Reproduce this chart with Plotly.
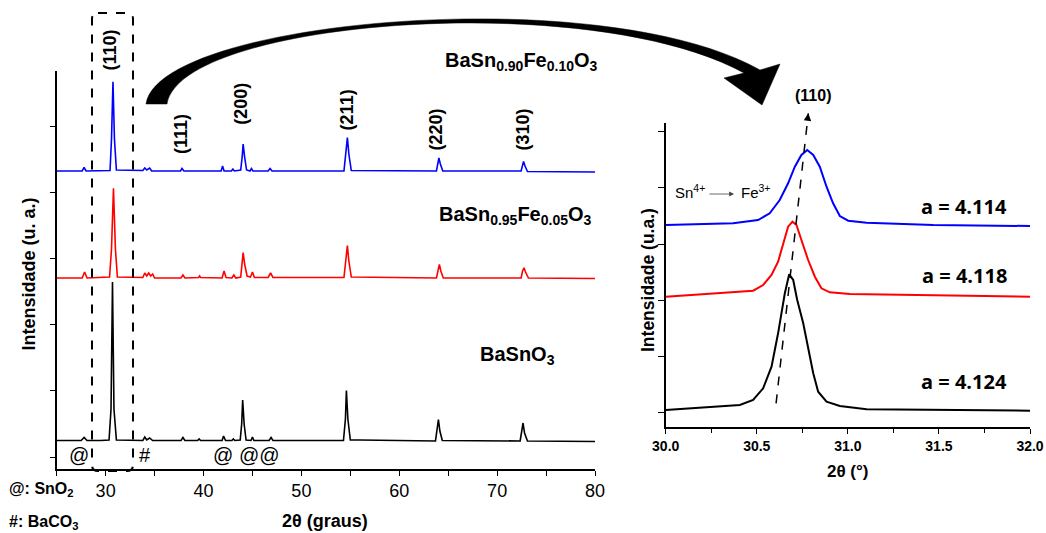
import plotly.graph_objects as go

W, H = 1046, 533

# ---------------- data: XRD patterns (full range) ----------------
bso_x = [25.0, 27.5, 27.8, 28.1, 29.5, 30.35, 30.55, 30.7, 30.85, 31.1, 33.8, 34.0, 34.2, 34.5, 34.8,
         37.7, 37.9, 38.1, 39.4, 39.55, 39.7, 41.9, 42.05, 42.25, 42.9, 43.05, 43.2, 43.75, 43.9, 44.0,
         44.15, 44.35, 44.85, 45.0, 45.15, 46.7, 46.9, 47.1, 54.3, 54.5, 54.6, 54.75, 55.0, 56.0,
         63.7, 63.9, 64.0, 64.15, 64.4, 72.35, 72.55, 72.65, 72.8, 73.1, 80.0]
bso_y = [28.5, 28.5, 31.5, 28.5, 28.5, 29, 60, 187, 60, 29, 28.5, 32, 29, 31, 28.5,
         28.5, 31.5, 28.5, 28.5, 30, 28.5, 28.5, 33, 28.5, 28.5, 30, 28.5, 29, 45, 69,
         45, 29, 28.5, 32, 28.5, 28.5, 31.5, 28.5, 28.5, 50, 78.5, 50, 29, 29,
         28, 40, 49.5, 38, 28.5, 28, 40, 46, 36, 28, 27.5]

fe05_x = [25.0, 27.6, 27.85, 28.1, 30.4, 30.6, 30.8, 31.0, 31.2, 33.8, 34.0, 34.2, 34.4, 34.6, 34.8, 35.0,
          37.7, 37.9, 38.1, 39.5, 39.6, 39.7, 41.9, 42.1, 42.3, 42.9, 43.1, 43.3, 43.8, 43.95, 44.05,
          44.2, 44.45, 44.8, 45.0, 45.2, 46.6, 46.85, 47.1, 54.35, 54.55, 54.7, 54.85, 55.1,
          63.8, 63.95, 64.1, 64.25, 64.5, 72.45, 72.6, 72.75, 72.9, 73.2, 80.0]
fe05_y = [191, 191, 197, 191, 192, 220, 280.7, 220, 192, 191.5, 196, 193, 196, 193, 195, 191,
          191, 194, 191, 191.5, 193, 191.5, 191, 198, 191.5, 191, 194, 191, 192, 205, 216.5,
          205, 193, 192, 197, 191.5, 191.5, 196, 191.5, 191.5, 208, 223.4, 208, 192,
          191, 200, 204.6, 198, 191, 191, 198, 201.2, 197, 191, 190.5]

fe10_x = [25.0, 27.6, 27.8, 28.0, 30.45, 30.6, 30.75, 30.9, 31.1, 33.8, 34.0, 34.2, 34.5, 34.7,
          37.65, 37.8, 38.0, 41.8, 41.95, 42.1, 42.85, 43.0, 43.15, 43.8, 43.95, 44.05, 44.2, 44.4,
          44.75, 44.9, 45.05, 46.6, 46.8, 47.0, 54.35, 54.55, 54.7, 54.85, 55.1,
          63.8, 63.95, 64.05, 64.2, 64.45, 72.45, 72.6, 72.7, 72.85, 73.1, 80.0]
fe10_y = [298, 298, 301.5, 298, 298.5, 330, 387.3, 330, 299, 298.5, 301, 299, 301, 298,
          298, 300.5, 298, 298, 303, 298, 298, 300, 298, 299, 312, 325, 312, 299,
          298, 300.5, 298, 298, 300.5, 298, 298, 315, 331.4, 315, 298.5,
          298, 306, 311, 305, 298, 298, 304, 307.6, 303, 297.5, 297]

# ---------------- data: (110) peak zoom ----------------
z_bso_x = [30.0, 30.407, 30.48, 30.535, 30.581, 30.617, 30.654, 30.678, 30.70, 30.722, 30.755,
           30.782, 30.81, 30.837, 30.883, 30.956, 31.103, 32.0]
z_bso_y = [17, 22, 27, 38.7, 60.3, 93.7, 133.7, 152.7, 147, 127, 103.7,
           80.3, 53.7, 35.3, 25.3, 21, 17.7, 16.3]

z_fe05_x = [30.0, 30.48, 30.535, 30.581, 30.617, 30.645, 30.672, 30.696, 30.718, 30.745, 30.782,
            30.819, 30.855, 30.901, 31.011, 32.0]
z_fe05_y = [130.3, 136.3, 142, 152, 165.3, 183.7, 200.3, 205.3, 202, 187, 167,
            150.3, 138.7, 134.7, 133, 130.3]

z_fe10_x = [30.0, 30.37, 30.507, 30.571, 30.626, 30.672, 30.709, 30.745, 30.777, 30.81, 30.846,
            30.883, 30.919, 30.956, 31.002, 31.103, 31.469, 32.0]
z_fe10_y = [202, 203.7, 207, 213.7, 227, 243.7, 260.3, 272, 277, 272, 260.3,
            240.3, 223.7, 211, 206.3, 204.3, 202, 201]

# peak-shift guide (start / end in 2theta)
shift_x = [30.606, 30.783]

series_names = ["BaSnO<sub>3</sub>",
                "BaSn<sub>0.95</sub>Fe<sub>0.05</sub>O<sub>3</sub>",
                "BaSn<sub>0.90</sub>Fe<sub>0.10</sub>O<sub>3</sub>"]
lattice = ["a = 4.124", "a = 4.118", "a = 4.114"]
hkl = ["(110)", "(111)", "(200)", "(211)", "(220)", "(310)"]
hkl_pos = [30.4, 37.7, 43.8, 54.7, 63.8, 72.6]
impurity = ["@", "#", "@", "@@"]
impurity_pos = [27.3, 34.0, 42.0, 45.7]
colors = ["#000000", "#ff0000", "#0000ff"]

ARIAL = "Arial, Liberation Sans, sans-serif"

def px(x):
    return x / W

def py(y):
    return 1 - y / H

fig = go.Figure()

for xs, ys, c in [(bso_x, bso_y, colors[0]), (fe05_x, fe05_y, colors[1]), (fe10_x, fe10_y, colors[2])]:
    fig.add_trace(go.Scatter(x=xs, y=ys, mode="lines", line=dict(color=c, width=1.6),
                             xaxis="x", yaxis="y", showlegend=False, hoverinfo="skip"))

for xs, ys, c in [(z_bso_x, z_bso_y, colors[0]), (z_fe05_x, z_fe05_y, colors[1]), (z_fe10_x, z_fe10_y, colors[2])]:
    fig.add_trace(go.Scatter(x=xs, y=ys, mode="lines", line=dict(color=c, width=2),
                             xaxis="x2", yaxis="y2", showlegend=False, hoverinfo="skip"))

axcommon = dict(showgrid=False, zeroline=False, showline=True, linecolor="black", linewidth=1.5,
                ticks="outside", tickcolor="black", automargin=False)

fig.update_layout(
    width=W, height=H, margin=dict(l=0, r=0, t=0, b=0),
    paper_bgcolor="white", plot_bgcolor="white", showlegend=False,
    xaxis=dict(axcommon, domain=[px(56.7), px(595)], range=[25, 80], dtick=10, tick0=0,
               ticklen=5, tickwidth=1.2,
               minor=dict(ticks="outside", dtick=10, tick0=5, ticklen=5, tickcolor="black", tickwidth=1.2),
               tickfont=dict(family=ARIAL, size=18, color="black"), anchor="y"),
    yaxis=dict(axcommon, domain=[py(469), py(71)], range=[0, 398], tick0=12, dtick=66.1,
               ticklen=5, tickwidth=1.2, showticklabels=False, anchor="x"),
    xaxis2=dict(axcommon, domain=[px(665.7), px(1030)], range=[30, 32], dtick=0.5, tick0=30,
                tickformat=".1f", ticklen=5, tickwidth=1.2,
                minor=dict(ticks="outside", dtick=0.25, tick0=30, ticklen=4, tickcolor="black", tickwidth=1),
                tickfont=dict(family=ARIAL, size=14, color="black", weight="bold"), anchor="y2"),
    yaxis2=dict(axcommon, domain=[py(427), py(123)], range=[0, 304], tick0=14.3, dtick=56.2,
                ticklen=6, tickwidth=1.2, showticklabels=False, anchor="x2"),
)

ann = []
def text(x, y, t, size, bold=True, family=ARIAL, angle=0, xanchor="center", yanchor="middle"):
    ann.append(dict(x=px(x), y=py(y), xref="paper", yref="paper", text=t, showarrow=False,
                    textangle=angle, xanchor=xanchor, yanchor=yanchor,
                    font=dict(family=family, size=size, color="black",
                              weight="bold" if bold else "normal")))

# left panel titles
text(28.5, 274, "Intensidade (u. a.)", 18, angle=-90)
text(325, 521, "2θ (graus)", 18)
text(7, 490, "@: SnO<sub>2</sub>", 16, xanchor="left")
text(7, 522, "#: BaCO<sub>3</sub>", 16, xanchor="left")

# hkl labels (rotated)
hkl_y = [50, 134, 104, 110, 129, 130]
for lab, xv, yv in zip(hkl, hkl_pos, hkl_y):
    ann.append(dict(x=xv, y=py(yv), xref="x", yref="paper", text=lab, showarrow=False,
                    textangle=-90, xanchor="center", yanchor="middle",
                    font=dict(family=ARIAL, size=18, color="black", weight="bold")))

# impurity markers
for t, xv in zip(impurity, impurity_pos):
    ann.append(dict(x=xv, y=py(455), xref="x", yref="paper", text=t, showarrow=False,
                    xanchor="center", yanchor="middle",
                    font=dict(family=ARIAL, size=20, color="black")))

# series names
text(521.5, 62, series_names[2], 20)
text(515, 215, series_names[1], 20)
text(517, 355, series_names[0], 20)

# right panel
text(648, 280, "Intensidade (u.a.)", 17.5, angle=-90)
text(848, 471, "2θ (°)", 17)
text(812.5, 96, "(110)", 16)
for t, yv in zip(lattice, [381.7, 275, 206]):
    text(964, yv, t, 20, family="Open Sans, sans-serif")
text(707, 192, "Sn<sup>4+</sup>", 15, bold=False, xanchor="right")
text(739, 192, "Fe<sup>3+</sup>", 15, bold=False, xanchor="left")
ann.append(dict(x=px(734), y=py(194), xref="paper", yref="paper", ax=-26, ay=0, text="",
                showarrow=True, arrowhead=2, arrowsize=1.2, arrowwidth=0.8, arrowcolor="#444"))
# arrow head of dashed guide
ann.append(dict(x=shift_x[1], y=py(113.3), xref="x2", yref="paper", ax=-0.9, ay=8, text="",
                showarrow=True, arrowhead=2, arrowsize=1, arrowwidth=1.5, arrowcolor="black"))
fig.update_layout(annotations=ann)

shapes = []
# dashed guide line through peak maxima
shapes.append(dict(type="line", xref="x2", yref="paper", x0=shift_x[0], x1=shift_x[1],
                   y0=py(403.3), y1=py(113.3), line=dict(color="black", width=1.5, dash="dash")))

# dashed rounded box around (110)
bx0, bx1, by0, by1, r = 92, 133, 13, 471, 6
box = (f"M{px(bx0+r)},{py(by0)} L{px(bx1-r)},{py(by0)} Q{px(bx1)},{py(by0)} {px(bx1)},{py(by0+r)} "
       f"L{px(bx1)},{py(by1-r)} Q{px(bx1)},{py(by1)} {px(bx1-r)},{py(by1)} "
       f"L{px(bx0+r)},{py(by1)} Q{px(bx0)},{py(by1)} {px(bx0)},{py(by1-r)} "
       f"L{px(bx0)},{py(by0+r)} Q{px(bx0)},{py(by0)} {px(bx0+r)},{py(by0)} Z")
shapes.append(dict(type="path", xref="paper", yref="paper", path=box,
                   line=dict(color="black", width=2, dash="dash")))

# big curved arrow
def P(x, y):
    return f"{px(x)},{py(y)}"
arrow = (f"M{P(146,104)} C{P(158,20)} {P(600,-20)} {P(760,70)} "
         f"L{P(780,64)} L{P(762,105)} L{P(724,78)} L{P(744,73)} "
         f"C{P(590,-12)} {P(180,20)} {P(167,104)} Z")
shapes.append(dict(type="path", xref="paper", yref="paper", path=arrow,
                   fillcolor="black", line=dict(color="black", width=0.5)))
fig.update_layout(shapes=shapes)

fig.write_html("out.html")
